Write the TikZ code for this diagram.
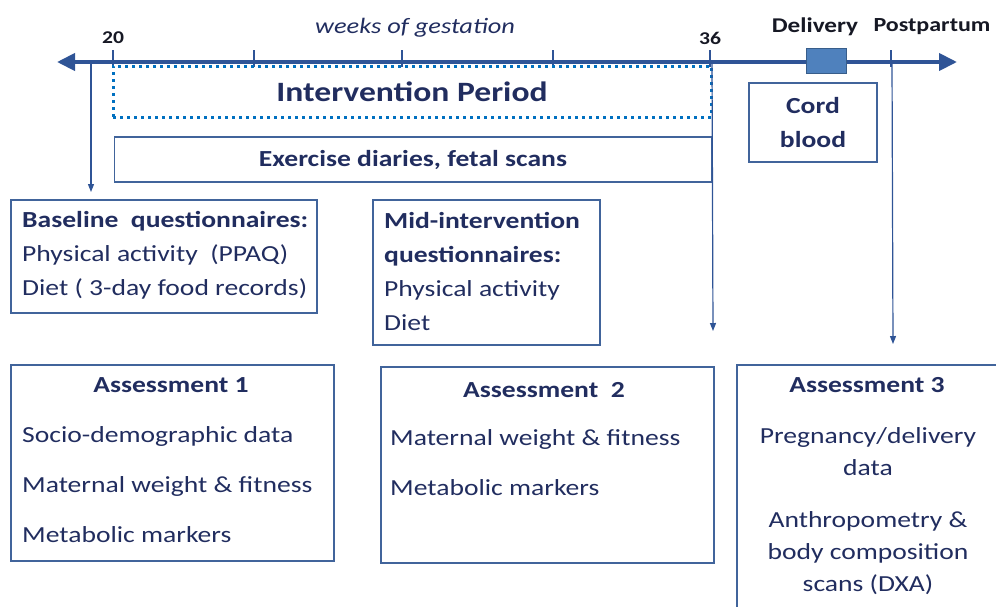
\documentclass[tikz,border=0pt]{standalone}
\usepackage{fontspec}
\setmainfont{Carlito}[FakeStretch=1.2]
\usetikzlibrary{arrows.meta,positioning}
\definecolor{ink}{RGB}{33,45,95}
\definecolor{dark}{RGB}{22,24,36}
\definecolor{frame}{RGB}{65,100,155}
\definecolor{axisblue}{RGB}{47,84,150}
\definecolor{dotblue}{RGB}{0,112,192}
\definecolor{delfill}{RGB}{79,129,189}
\definecolor{deldraw}{RGB}{56,93,138}
\newcommand{\txt}{\fontsize{23}{34}\selectfont}

\begin{document}
\begin{tikzpicture}[x=1pt, y=-1pt,
    every node/.style={text=ink, font=\txt},
    frm/.style={draw=frame, line width=1.6pt, inner sep=0pt},
    lst/.style={anchor=west, align=left, inner sep=0pt},
    tick/.style={draw=axisblue, line width=2pt},
    down/.style={draw=axisblue, line width=1.2pt, -{Triangle[length=8pt, width=6pt]}}]
  \useasboundingbox (0,0) rectangle (996,606);

  % time axis
  \coordinate (tl) at (57,62);
  \coordinate (tr) at (957,62);
  \draw[axisblue, line width=4pt, {Triangle[length=18pt, width=17pt]}-{Triangle[length=18pt, width=17pt]}] (tl) -- (tr);
  \foreach \x in {113,254,402,553,710,891}
    \draw[tick] (\x,50) -- (\x,67);

  \node[text=dark, font=\fontsize{18}{20}\selectfont\bfseries] (w20) at (113,38) {20};
  \node[text=dark, font=\fontsize{18}{20}\selectfont\bfseries] (w36) at (710,38) {36};
  \node[text=dark, font=\fontsize{21}{24}\selectfont\bfseries] (dlv) at (815,27) {Delivery};
  \node[text=dark, font=\fontsize{20}{24}\selectfont\bfseries] (post) at (932,27) {Postpartum};
  \node[font=\fontsize{22}{24}\selectfont\itshape] (weeks) at (415,28) {weeks of gestation};
  \node[draw=deldraw, fill=delfill, line width=1pt, minimum width=40pt, minimum height=25pt, inner sep=0pt] (birth) at (826,61) {};

  % periods along the axis
  \node[draw=dotblue, line width=3pt, dash pattern=on 3pt off 4pt, minimum width=598pt, minimum height=51pt, inner sep=0pt,
        font=\fontsize{28}{30}\selectfont\bfseries] (ip) at (412,91.5) {Intervention Period};
  \node[frm, minimum width=597pt, minimum height=45pt, font=\txt\bfseries] (diary) at (413,159.5) {Exercise diaries, fetal scans};
  \node[frm, minimum width=128pt, minimum height=79pt, align=center, font=\txt\bfseries] (cord) at (813,122.5) {Cord\\blood};

  % questionnaires
  \node[frm, minimum width=306pt, minimum height=113pt] (base) at (164,256.5) {};
  \node[lst] (baset) at (22,255)
    {\textbf{Baseline\ \ questionnaires:}\\Physical activity\ \ (PPAQ)\\Diet ( 3-day food records)};
  \node[frm, minimum width=227pt, minimum height=145pt] (mid) at (486.5,272.5) {};
  \node[lst] (midt) at (384,271)
    {\textbf{Mid-intervention}\\\textbf{questionnaires:}\\Physical activity\\Diet};

  % assessments
  \node[frm, minimum width=323pt, minimum height=196pt] (as1) at (172.5,463) {};
  \node[font=\txt\bfseries] (as1h) at (171,385) {Assessment 1};
  \node[lst] (as1t) at (22,485)
    {Socio-demographic data\\[16pt]Maternal weight \& fitness\\[16pt]Metabolic markers};

  \node[frm, minimum width=333pt, minimum height=196pt] (as2) at (547.5,465) {};
  \node[font=\txt\bfseries] (as2h) at (544,390) {Assessment\ \ 2};
  \node[lst] (as2t) at (390,463)
    {Maternal weight \& fitness\\[16pt]Metabolic markers};

  \node[frm, minimum width=270pt, minimum height=260pt] (as3) at (872,495) {};
  \node[font=\txt\bfseries] (as3h) at (867,385) {Assessment 3};
  \node[align=center, font=\fontsize{23}{32}\selectfont] (as3t) at (868,511)
    {Pregnancy/delivery\\data\\[20pt]Anthropometry \&\\body composition\\scans (DXA)};

  % arrows down from the axis
  \coordinate (s0) at (91,60);
  \coordinate (e0) at (91,192);
  \coordinate (s36) at (712,62);
  \coordinate (e36) at (713,331);
  \coordinate (spp) at (892,62);
  \coordinate (epp) at (893,344);
  \draw[down] (s0) -- (e0);
  \draw[down] (s36) -- (e36);
  \draw[down] (spp) -- (epp);
\end{tikzpicture}
\end{document}
